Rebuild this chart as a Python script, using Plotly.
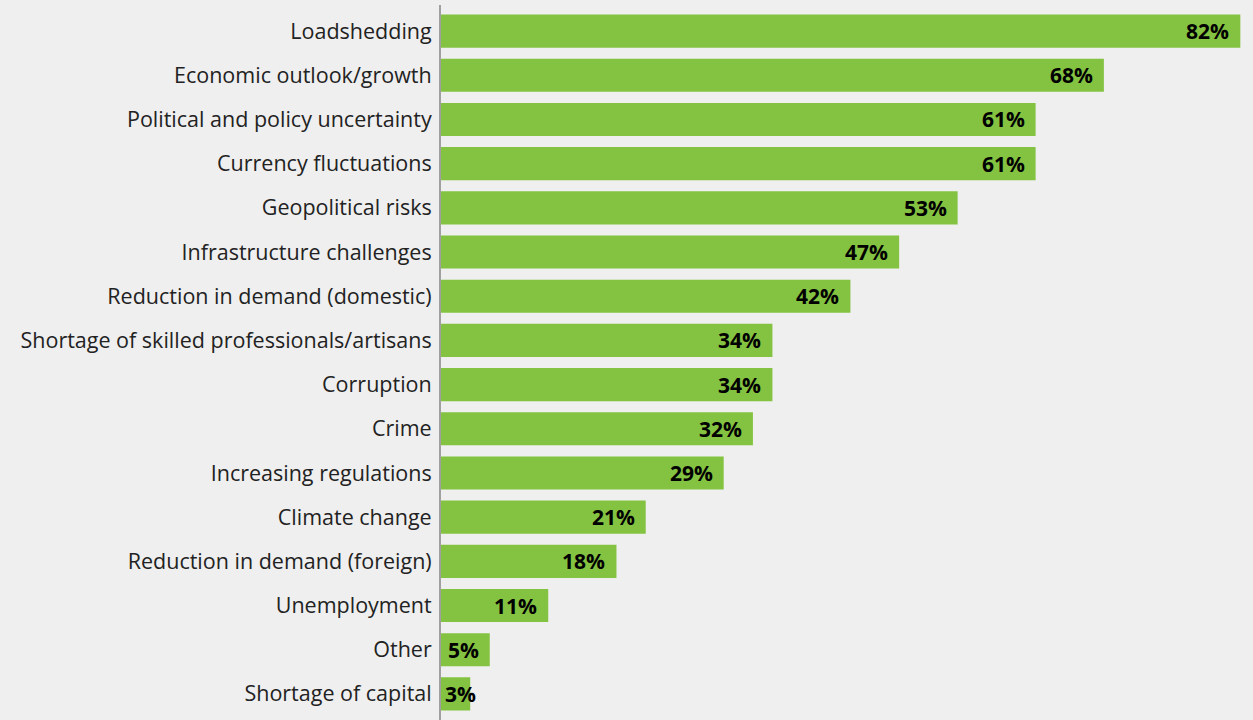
import plotly.graph_objects as go

categories = [
    "Loadshedding",
    "Economic outlook/growth",
    "Political and policy uncertainty",
    "Currency fluctuations",
    "Geopolitical risks",
    "Infrastructure challenges",
    "Reduction in demand (domestic)",
    "Shortage of skilled professionals/artisans",
    "Corruption",
    "Crime",
    "Increasing regulations",
    "Climate change",
    "Reduction in demand (foreign)",
    "Unemployment",
    "Other",
    "Shortage of capital",
]
values = [82, 68, 61, 61, 53, 47, 42, 34, 34, 32, 29, 21, 18, 11, 5, 3]
labels = [f"{v}%" for v in values]

fig = go.Figure(
    go.Bar(
        x=values,
        y=categories,
        orientation="h",
        marker=dict(color="#84c341", line=dict(width=0)),
        width=0.75,
        hoverinfo="x+y",
    )
)

for c, v, t in zip(categories, values, labels):
    fig.add_annotation(
        x=v, y=c, xref="x", yref="y",
        text=f"<b>{t}</b>",
        showarrow=False,
        xanchor="right",
        xshift=-9 if v > 4 else 8,
        font=dict(family="Open Sans", size=21, color="#000000"),
    )

fig.update_layout(
    width=1253,
    height=720,
    paper_bgcolor="#efefef",
    plot_bgcolor="#efefef",
    margin=dict(l=441, r=0, t=5, b=0),
    showlegend=False,
    font=dict(family="Open Sans", size=21, color="#222222"),
    xaxis=dict(
        range=[0, 83.3],
        showgrid=False,
        zeroline=False,
        showticklabels=False,
        showline=False,
        fixedrange=True,
    ),
    yaxis=dict(
        range=[15.59, -0.59],
        showgrid=False,
        zeroline=False,
        showline=True,
        linecolor="#a0a0a0",
        linewidth=2,
        ticks="",
        ticklabelstandoff=3,
        tickfont=dict(family="Open Sans", size=21.5, color="#222222"),
    ),
)

fig.write_html("out.html")
